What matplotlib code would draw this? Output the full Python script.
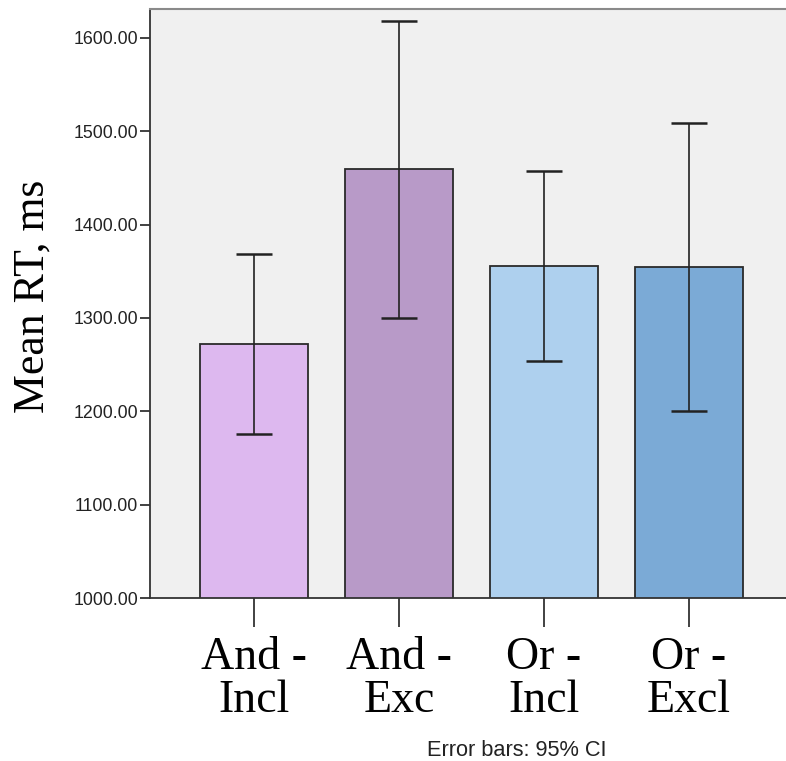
import matplotlib
matplotlib.use("Agg")
import matplotlib.pyplot as plt

categories = ["And -\nIncl", "And -\nExc", "Or -\nIncl", "Or -\nExcl"]
means = [1272, 1459.5, 1355.5, 1354.5]
ci_low = [1175.5, 1300, 1254, 1200.5]
ci_high = [1368.5, 1618, 1457, 1508.5]
colors = ["#DDB8EF", "#B89AC8", "#AED0EE", "#7BAAD6"]
yticks = [1000, 1100, 1200, 1300, 1400, 1500, 1600]

fig = plt.figure(figsize=(7.86, 7.61), dpi=100)
ax = fig.add_axes([150/786, 163/761, 643/786, 589/761])
ax.set_facecolor("#F0F0F0")

x = list(range(len(categories)))
ax.bar(x, means, width=0.745, bottom=0, color=colors, edgecolor="#2a2a2a", linewidth=1.3, zorder=2)
yerr = [[m - l for m, l in zip(means, ci_low)], [h - m for m, h in zip(means, ci_high)]]
ax.errorbar(x, means, yerr=yerr, fmt="none", ecolor="#222222", elinewidth=1.2,
            capsize=13, capthick=1.8, zorder=3)

ax.set_xlim(-0.717, -0.717 + 643/145)
ax.set_ylim(1000, 1631)
ax.set_yticks(yticks)
ax.set_yticklabels([f"{v:.2f}" for v in yticks], fontsize=12.8, family="Liberation Sans", color="#222222")
ax.set_xticks(x)
ax.set_xticklabels(categories, fontsize=33, family="Liberation Serif", linespacing=1.0)
ax.tick_params(axis="x", length=21, width=1.3, color="#333333", pad=7)
ax.tick_params(axis="y", length=7.5, width=1.3, color="#333333", pad=1)
ax.set_ylabel("Mean RT, ms", fontsize=31.5, family="Liberation Serif")
ax.yaxis.set_label_coords((53 - 150) / 643, (598 - 296) / 589)

for s in ["left", "bottom"]:
    ax.spines[s].set_color("#333333")
    ax.spines[s].set_linewidth(1.3)
ax.spines["top"].set_color("#8a8a8a")
ax.spines["top"].set_linewidth(1.5)
ax.spines["right"].set_visible(False)

fig.text(517/786, 1 - 750/761, "Error bars: 95% CI", ha="center", va="center",
         fontsize=15.7, family="Liberation Sans", color="#222222")

fig.savefig("out.png", dpi=100)
